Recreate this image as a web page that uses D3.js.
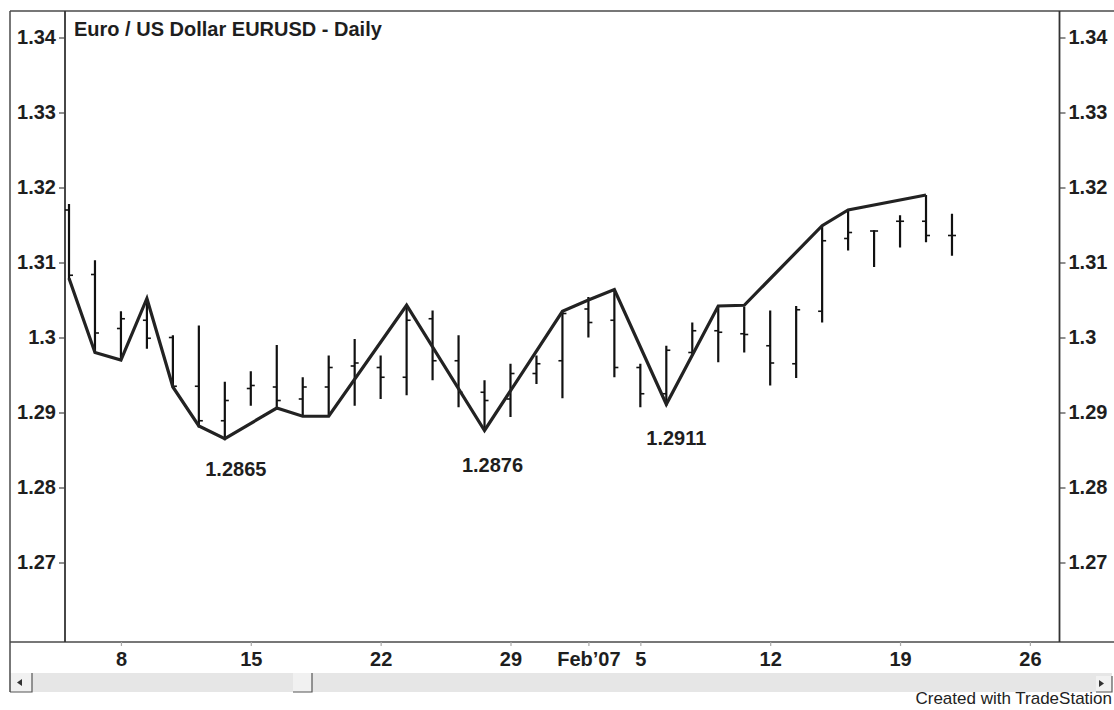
<!DOCTYPE html>
<html>
<head>
<meta charset="utf-8">
<script src="https://cdn.jsdelivr.net/npm/d3@7"></script>
<style>
  html, body { margin: 0; padding: 0; background: #fff; }
  svg { display: block; font-family: "Liberation Sans", Arial, Helvetica, sans-serif; }
</style>
</head>
<body>
<svg id="chart" width="1114" height="710"></svg>
<script>
// ---------------- data ----------------
const title = "Euro / US Dollar EURUSD - Daily";
const days = ["Jan 4","Jan 5","Jan 8","Jan 9","Jan 10","Jan 11","Jan 12",
  "Jan 15","Jan 16","Jan 17","Jan 18","Jan 19",
  "Jan 22","Jan 23","Jan 24","Jan 25","Jan 26",
  "Jan 29","Jan 30","Jan 31","Feb 1","Feb 2",
  "Feb 5","Feb 6","Feb 7","Feb 8","Feb 9",
  "Feb 12","Feb 13","Feb 14","Feb 15","Feb 16",
  "Feb 19","Feb 20","Feb 21"];
const opens  = [1.3170,1.3084,1.3012,1.3023,1.3000,1.2935,1.2889,
  1.2932,1.2934,1.2918,1.2934,1.2962,
  1.2960,1.2947,1.3025,1.2969,1.2927,
  1.2918,1.2952,1.2969,1.3038,1.3023,
  1.2960,1.2925,1.2980,1.3009,1.3005,
  1.2989,1.2965,1.3035,1.3132,1.3142,
  1.3155,1.3155,1.3136];
const highs  = [1.3178,1.3103,1.3035,1.3052,1.3003,1.3016,1.2941,
  1.2955,1.2990,1.2947,1.2976,1.2998,
  1.2976,1.3041,1.3036,1.3003,1.2943,
  1.2965,1.2976,1.3034,1.3054,1.3063,
  1.2965,1.2989,1.3020,1.3041,1.3041,
  1.3036,1.3042,1.3149,1.3170,1.3143,
  1.3163,1.3190,1.3165];
const lows   = [1.3078,1.2980,1.2969,1.2985,1.2933,1.2880,1.2863,
  1.2909,1.2905,1.2896,1.2895,1.2909,
  1.2918,1.2923,1.2943,1.2907,1.2876,
  1.2894,1.2938,1.2919,1.3000,1.2947,
  1.2907,1.2909,1.2978,1.2967,1.2980,
  1.2936,1.2946,1.3020,1.3116,1.3094,
  1.3120,1.3127,1.3109];
const closes = [1.3083,1.3006,1.3025,1.2999,1.2935,1.2889,1.2916,
  1.2936,1.2916,1.2934,1.2960,1.2966,
  1.2947,1.3023,1.2969,1.2927,1.2916,
  1.2952,1.2965,1.3032,1.3020,1.2960,
  1.2925,1.2983,1.3009,1.3007,1.3004,
  1.2966,1.3037,1.3129,1.3140,1.3142,
  1.3155,1.3136,1.3136];

// swing line: trading-day index and price
const swingIdx = [0,1,2,3,4,5,6,8,9,10,13,16,19,20,21,23,25,26,29,30,33];
const swingVal = [1.3079,1.2980,1.2970,1.3052,1.2934,1.2882,1.2865,1.2906,1.2895,1.2895,
  1.3043,1.2876,1.3035,1.3050,1.3064,1.2911,1.3042,1.3043,1.3149,1.3170,1.3190];

// annotated swing lows
const noteIdx  = [6,16,23];
const noteText = ["1.2865","1.2876","1.2911"];

// axes
const yTicks = [1.27,1.28,1.29,1.30,1.31,1.32,1.33,1.34];
const xTickIdx = [2,7,12,17,20,22,27,32,37];
const xTickLabels = ["8","15","22","29","Feb\u201907","5","12","19","26"];
const footer = "Created with TradeStation";

// ---------------- layout ----------------
const svg = d3.select("#chart");
const L = 65, R = 1059.5, T = 11, B = 642;

const x = d3.scaleLinear().domain([-0.154, 38.14]).range([L, R]);
const y = d3.scaleLinear().domain([1.27, 1.34]).range([562.5, 37.5]);

const ink = "#1e1e1e";
const frame = "#4a4a4a";
const fs = 20;

// scrollbar band
svg.append("rect").attr("x", 10).attr("y", 673).attr("width", 1102).attr("height", 19)
  .attr("fill", "#e6e6e6");
// left button
svg.append("rect").attr("x", 10).attr("y", 673).attr("width", 22).attr("height", 19).attr("fill", "#f1f1f1");
svg.append("path").attr("d", "M32,673V692H10").attr("fill", "none").attr("stroke", "#555").attr("stroke-width", 1.2);
svg.append("path").attr("d", "M17,682.5L22,679V686Z").attr("fill", "#333");
// thumb
svg.append("rect").attr("x", 293).attr("y", 673).attr("width", 19).attr("height", 19).attr("fill", "#f1f1f1");
svg.append("path").attr("d", "M312,673V692H293").attr("fill", "none").attr("stroke", "#555").attr("stroke-width", 1.2);
// right button
svg.append("rect").attr("x", 1096).attr("y", 676).attr("width", 16).attr("height", 16).attr("fill", "#f1f1f1");
svg.append("path").attr("d", "M1112,676V692H1096").attr("fill", "none").attr("stroke", "#555").attr("stroke-width", 1.2);
svg.append("path").attr("d", "M1104,683.5L1099,680V687Z").attr("fill", "#333");

// frame lines
svg.append("line").attr("x1", 10).attr("x2", 1114).attr("y1", 11).attr("y2", 11)
  .attr("stroke", frame).attr("stroke-width", 1.5);
svg.append("line").attr("x1", 10).attr("x2", 10).attr("y1", 11).attr("y2", 692)
  .attr("stroke", frame).attr("stroke-width", 1.5);
svg.append("line").attr("x1", 10).attr("x2", 1114).attr("y1", B).attr("y2", B)
  .attr("stroke", frame).attr("stroke-width", 1.5);
svg.append("line").attr("x1", L).attr("x2", L).attr("y1", T).attr("y2", B)
  .attr("stroke", "#333").attr("stroke-width", 1.8);
svg.append("line").attr("x1", R).attr("x2", R).attr("y1", T).attr("y2", B)
  .attr("stroke", "#333").attr("stroke-width", 1.8);

const fmt = v => String(+v.toFixed(2));

// left axis
const yLeft = d3.axisLeft(y).tickValues(yTicks).tickFormat(fmt).tickSize(6).tickPadding(3);
const gL = svg.append("g").attr("transform", `translate(${L},0)`).call(yLeft);
gL.select(".domain").remove();
gL.selectAll("line").attr("stroke", "#444").attr("stroke-width", 1.2);
gL.selectAll("text").attr("font-size", fs).attr("font-weight", "bold").attr("fill", ink)
  .attr("font-family", "Liberation Sans, Arial, sans-serif");

// right axis
const yRight = d3.axisRight(y).tickValues(yTicks).tickFormat(fmt).tickSize(6).tickPadding(3);
const gR = svg.append("g").attr("transform", `translate(${R},0)`).call(yRight);
gR.select(".domain").remove();
gR.selectAll("line").attr("stroke", "#444").attr("stroke-width", 1.2);
gR.selectAll("text").attr("font-size", fs).attr("font-weight", "bold").attr("fill", ink)
  .attr("font-family", "Liberation Sans, Arial, sans-serif");

// bottom axis
const xAxis = d3.axisBottom(x).tickValues(xTickIdx)
  .tickFormat((d, i) => xTickLabels[i]).tickSize(4).tickPadding(6);
const gB = svg.append("g").attr("transform", `translate(0,${B})`).call(xAxis);
gB.select(".domain").remove();
gB.selectAll("line").attr("stroke", "#aaa").attr("stroke-width", 1.2);
gB.selectAll("text").attr("font-size", fs).attr("font-weight", "bold").attr("fill", ink)
  .attr("font-family", "Liberation Sans, Arial, sans-serif");

// title
svg.append("text").attr("x", 74).attr("y", 36).text(title)
  .attr("font-size", 20).attr("font-weight", "bold").attr("fill", ink);

// OHLC bars
const bars = svg.append("g").attr("stroke", "#111").attr("stroke-width", 2.2).attr("fill", "none");
days.forEach((d, i) => {
  const cx = x(i);
  bars.append("line").attr("x1", cx).attr("x2", cx).attr("y1", y(highs[i])).attr("y2", y(lows[i]));
  bars.append("line").attr("x1", cx - 4).attr("x2", cx).attr("y1", y(opens[i])).attr("y2", y(opens[i])).attr("stroke-width", 1.6);
  bars.append("line").attr("x1", cx).attr("x2", cx + 4).attr("y1", y(closes[i])).attr("y2", y(closes[i])).attr("stroke-width", 1.6);
});

// swing line
const line = d3.line().x(d => x(d[0])).y(d => y(d[1]));
svg.append("path").datum(swingIdx.map((d, i) => [d, swingVal[i]]))
  .attr("d", line).attr("fill", "none").attr("stroke", "#222")
  .attr("stroke-width", 3.2).attr("stroke-linejoin", "miter");

// annotations
const noteDx = [11, 8, 10];
const noteDy = [37, 41, 41];
noteIdx.forEach((idx, i) => {
  const v = +noteText[i];
  svg.append("text").attr("x", x(idx) + noteDx[i]).attr("y", y(v) + noteDy[i])
    .attr("text-anchor", "middle").attr("font-size", fs).attr("font-weight", "bold")
    .attr("fill", ink).text(noteText[i]);
});

// footer
svg.append("text").attr("x", 1112).attr("y", 704).attr("text-anchor", "end")
  .attr("font-size", 17).attr("fill", "#222").text(footer);
</script>
</body>
</html>
